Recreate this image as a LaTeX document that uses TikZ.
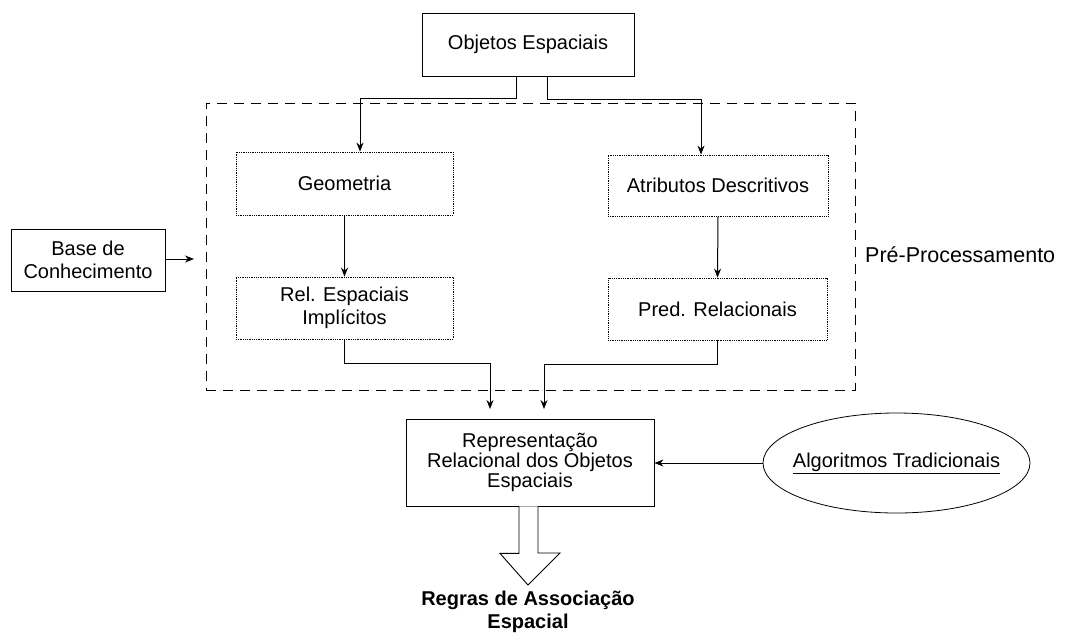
\documentclass[tikz,border=0pt]{standalone}
\usepackage{fontspec}
\setmainfont{Liberation Sans}
\usetikzlibrary{arrows.meta,shapes.geometric,calc}
\begin{document}
\begin{tikzpicture}[x=1pt,y=-1pt,
  txt/.style={font=\fontsize{20}{23}\selectfont, align=center, inner sep=0pt},
  solidbox/.style={txt, draw, line width=0.8pt, rectangle},
  dotbox/.style={txt, draw, line width=0.8pt, densely dotted, rectangle},
  conn/.style={line width=1pt, -{Stealth[length=9pt,width=7pt]}},
  plain/.style={line width=1pt}
]
\useasboundingbox (0,0) rectangle (1068,638);
\fill[white] (0,0) rectangle (1068,638);

% dashed pre-processing frame
\node[draw, line width=0.9pt, dash pattern=on 10pt off 7pt, minimum width=649pt, minimum height=287pt, inner sep=0pt] (pre) at (530.5,246.5) {};
\node[txt, anchor=west, font=\fontsize{21.5}{24}\selectfont] (pretxt) at (865,255) {Pré-Processamento};

% nodes
\node[solidbox, minimum width=212pt, minimum height=63pt] (obj) at (528,44.5) {Objetos Espaciais};
\node[solidbox, minimum width=154pt, minimum height=62pt] (base) at (88,260) {Base de\\Conhecimento};
\node[dotbox, minimum width=217pt, minimum height=63pt] (geo) at (344.5,183.5) {Geometria};
\node[dotbox, minimum width=220pt, minimum height=61pt] (atr) at (718,185.5) {Atributos Descritivos};
\node[dotbox, minimum width=217pt, minimum height=62pt] (rel) at (344.5,308) {Rel. Espaciais\\Implícitos};
\node[dotbox, minimum width=219pt, minimum height=62pt] (pred) at (717.5,309) {Pred. Relacionais};
\node[solidbox, minimum width=248pt, minimum height=87pt, font=\fontsize{20}{20}\selectfont] (rep) at (530,462.5) {Representação\\Relacional dos Objetos\\Espaciais};
\node[draw, ellipse, line width=0.8pt, minimum width=267pt, minimum height=100pt, inner sep=0pt] (alg) at (896.5,463) {};
\node[txt] (algtxt) at (alg.center) {\underline{Algoritmos Tradicionais}};
\node[txt, font=\bfseries\fontsize{20}{22.5}\selectfont] (regras) at (528,612) {Regras de Associação\\Espacial};

% free ends
\coordinate (in1) at (490,409);
\coordinate (in2) at (544,409);
\coordinate (baseend) at (194,259);

% connectors
\draw[conn] ([xshift=-12pt]obj.south) -- ++(0,22) -| ([xshift=15.5pt]geo.north);
\draw[conn] ([xshift=19pt]obj.south) -- ++(0,23) -| ([xshift=-17pt]atr.north);
\draw[conn] (geo.south) -- (rel.north);
\draw[conn] (atr.south) -- (pred.north);
\draw[conn] (rel.south) -- ++(0,24) -| (in1);
\draw[conn] (pred.south) -- ++(0,24) -| (in2);
\draw[conn] (base.east |- baseend) -- (baseend);
\draw[conn] (alg.west) -- (alg.west -| rep.east);

% big hollow arrow
\draw[line width=0.9pt, fill=white] ([xshift=-11pt]rep.south) -- ++(0,47) -- ++(-19,0) -- (528,585) -- (560,553) -- ++(-22,0) -- ([xshift=8pt]rep.south);
\end{tikzpicture}
\end{document}
